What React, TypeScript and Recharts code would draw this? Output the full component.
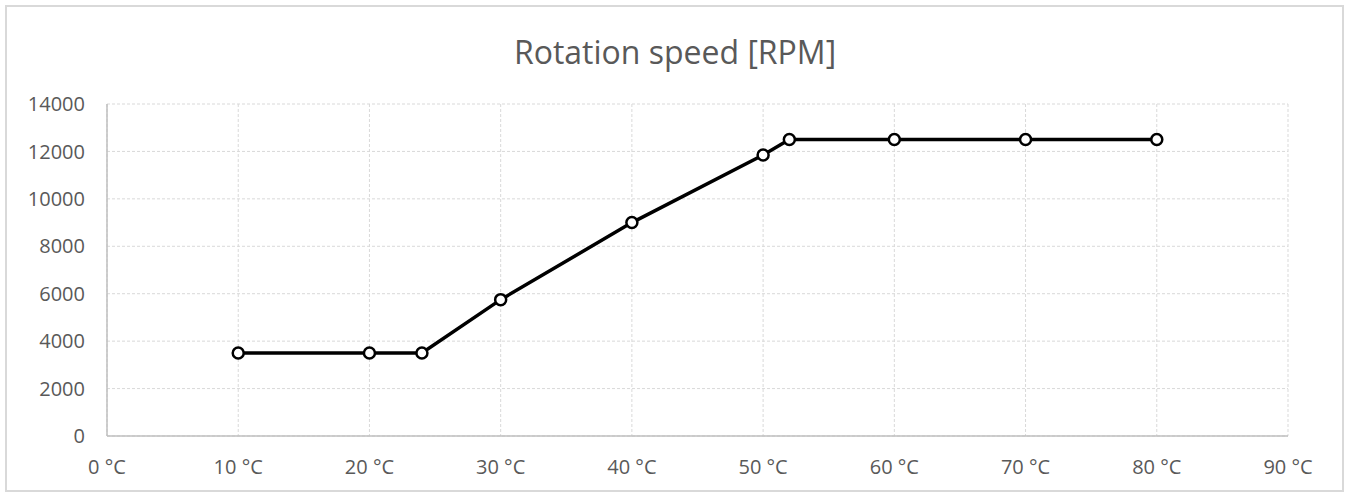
import React from "react";
import { LineChart, Line, XAxis, YAxis, CartesianGrid } from "recharts";

const temps = [10, 20, 24, 30, 40, 50, 52, 60, 70, 80];
const rpm = [3500, 3500, 3500, 5750, 9000, 11850, 12500, 12500, 12500, 12500];
const xTicks = [0, 10, 20, 30, 40, 50, 60, 70, 80, 90];
const yTicks = [0, 2000, 4000, 6000, 8000, 10000, 12000, 14000];

const data = temps.map((t, i) => ({ t, rpm: rpm[i] }));

const W = 1351;
const H = 497;
const font = "'Open Sans', sans-serif";
const labelColor = "#595959";

export default function App() {
  return (
    <div style={{ position: "absolute", left: 0, top: 0, width: W, height: H, background: "#fff" }}>
      <div
        style={{
          position: "absolute",
          left: 5,
          top: 5,
          width: W - 12,
          height: H - 10,
          border: "2px solid #d9d9d9",
          boxSizing: "border-box",
        }}
      />
      <LineChart
        width={W}
        height={H}
        data={data}
        margin={{ top: 104, right: 63, bottom: 21, left: 47 }}
        style={{ position: "absolute", left: 0, top: 0, fontFamily: font }}
      >
        <text x={675} y={64} textAnchor="middle" fontSize={32} fill={labelColor} fontFamily={font}>
          Rotation speed [RPM]
        </text>
        <CartesianGrid stroke="#d9d9d9" strokeDasharray="3 2" />
        <XAxis
          dataKey="t"
          type="number"
          domain={[0, 90]}
          ticks={xTicks}
          interval={0}
          height={40}
          tickFormatter={(v: number) => `${v} °C`}
          tick={{ fontSize: 20, fill: labelColor, fontFamily: font }}
          tickLine={false}
          tickSize={0}
          tickMargin={24}
          axisLine={{ stroke: "#bfbfbf", strokeWidth: 1.5 }}
        />
        <YAxis
          type="number"
          domain={[0, 14000]}
          ticks={yTicks}
          interval={0}
          width={60}
          tick={{ fontSize: 20, fill: labelColor, fontFamily: font }}
          tickLine={false}
          tickSize={0}
          tickMargin={22}
          axisLine={{ stroke: "#bfbfbf", strokeWidth: 1.5 }}
        />
        <Line
          dataKey="rpm"
          type="linear"
          stroke="#000"
          strokeWidth={3.5}
          dot={{ r: 5.5, stroke: "#000", strokeWidth: 2.5, fill: "#fff" }}
          activeDot={false}
          isAnimationActive={false}
        />
      </LineChart>
    </div>
  );
}
